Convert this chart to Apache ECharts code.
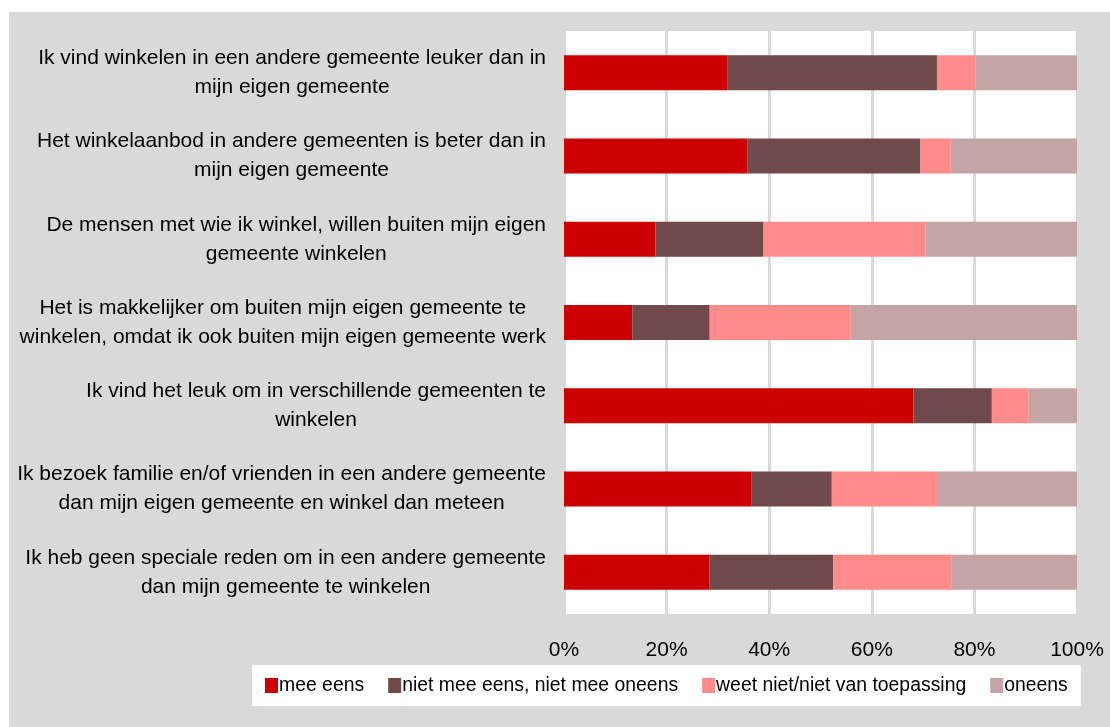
<!DOCTYPE html>
<html>
<head>
<meta charset="utf-8">
<style>
html,body{margin:0;padding:0;background:#fff;}
#c{width:1110px;height:727px;}
</style>
<script src="https://cdn.jsdelivr.net/npm/echarts@6/dist/echarts.min.js"></script>
</head>
<body>
<div id="c"></div>
<script>
const categories = [
  "Ik vind winkelen in een andere gemeente leuker dan in\nmijn eigen gemeente",
  "Het winkelaanbod in andere gemeenten is beter dan in\nmijn eigen gemeente",
  "De mensen met wie ik winkel, willen buiten mijn eigen\ngemeente winkelen",
  "Het is makkelijker om buiten mijn eigen gemeente te\nwinkelen, omdat ik ook buiten mijn eigen gemeente werk",
  "Ik vind het leuk om in verschillende gemeenten te\nwinkelen",
  "Ik bezoek familie en/of vrienden in een andere gemeente\ndan mijn eigen gemeente en winkel dan meteen",
  "Ik heb geen speciale reden om in een andere gemeente\ndan mijn gemeente te winkelen"
];
const seriesNames = ["mee eens", "niet mee eens, niet mee oneens", "weet niet/niet van toepassing", "oneens"];
const meeEens      = [31.8, 35.7, 17.8, 13.3, 68.1, 36.6, 28.4];
const neutraal     = [40.9, 33.8, 21.1, 15.1, 15.3, 15.6, 24.1];
const weetNiet     = [7.5, 5.9, 31.6, 27.5, 7.2, 20.5, 23.1];
const oneens       = [19.8, 24.6, 29.5, 44.1, 9.4, 27.3, 24.4];
const tickLabels = ["0%", "20%", "40%", "60%", "80%", "100%"];

const colors = ["#CC0000", "#704A4A", "#FF8B8B", "#C4A4A5"];
const values = [meeEens, neutraal, weetNiet, oneens];
const font = "'Liberation Sans', Arial, sans-serif";

const chart = echarts.init(document.getElementById('c'), null, {renderer: 'canvas'});
chart.setOption({
  backgroundColor: '#ffffff',
  animation: false,
  graphic: [{
    type: 'rect', left: 9, top: 12, z: -10,
    shape: {width: 1101, height: 715},
    style: {fill: '#D9D9D9'}
  }],
  grid: {left: 564, right: 33, top: 31, bottom: 113, containLabel: false,
         show: true, backgroundColor: '#ffffff', borderWidth: 0},
  xAxis: {
    type: 'value', min: 0, max: 100, interval: 20,
    axisLine: {show: false}, axisTick: {show: false},
    splitLine: {show: true, lineStyle: {color: '#D9D9D9', width: 3}},
    axisLabel: {
      margin: 26, color: '#000', fontFamily: font, fontSize: 21,
      formatter: function (v) { return tickLabels[Math.round(v / 20)]; }
    }
  },
  yAxis: {
    type: 'category', data: categories, inverse: true,
    axisLine: {show: true, lineStyle: {color: '#D9D9D9', width: 2}},
    axisTick: {show: false},
    axisLabel: {
      margin: 18, color: '#000', fontFamily: font, fontSize: 21, lineHeight: 29,
      formatter: function (v) {
        return v.split('\n').map(function (s) { return '{c|' + s + '}'; }).join('\n');
      },
      rich: {c: {align: 'center', fontFamily: font, fontSize: 21, lineHeight: 29, color: '#000'}}
    }
  },
  legend: {
    left: 252, top: 665,
    padding: [11, 13, 11, 13],
    backgroundColor: '#ffffff',
    itemGap: 24, itemWidth: 13, itemHeight: 15,
    icon: 'rect',
    textStyle: {color: '#000', fontFamily: font, fontSize: 19.4, padding: [0, 0, 0, -4]},
    data: seriesNames
  },
  series: seriesNames.map(function (n, i) {
    return {
      name: n, type: 'bar', stack: 'total', barWidth: 35,
      itemStyle: {color: colors[i]},
      data: values[i]
    };
  })
});
</script>
</body>
</html>
